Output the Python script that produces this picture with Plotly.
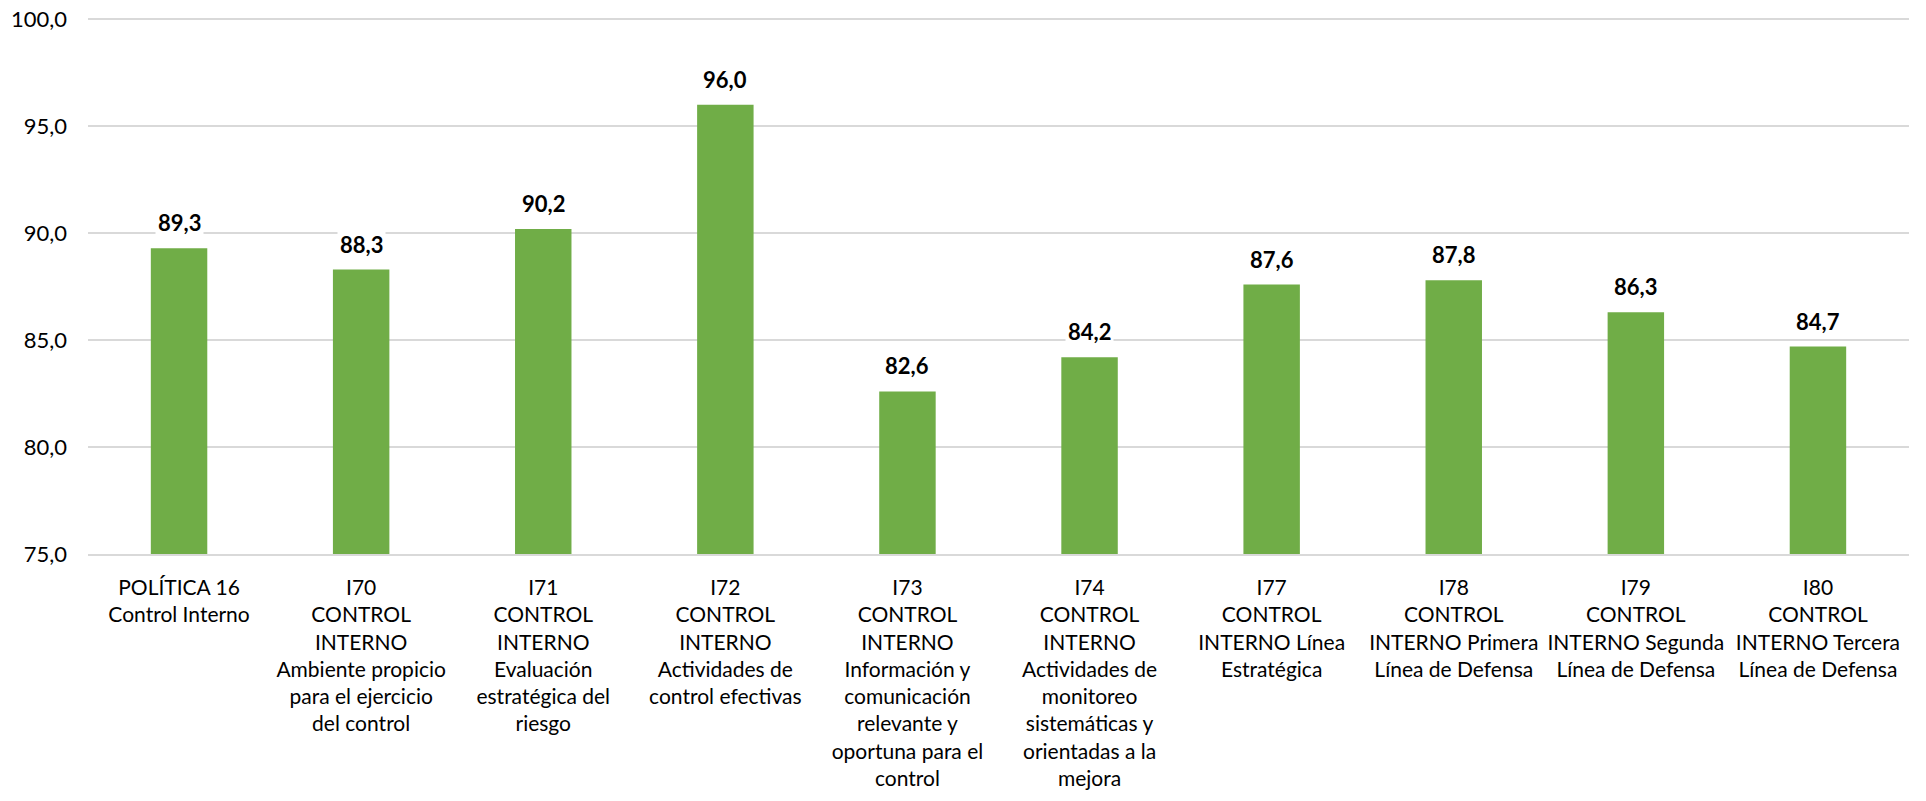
import plotly.graph_objects as go

categories = [
    "POLÍTICA 16<br>Control Interno",
    "I70<br>CONTROL<br>INTERNO<br>Ambiente propicio<br>para el ejercicio<br>del control",
    "I71<br>CONTROL<br>INTERNO<br>Evaluación<br>estratégica del<br>riesgo",
    "I72<br>CONTROL<br>INTERNO<br>Actividades de<br>control efectivas",
    "I73<br>CONTROL<br>INTERNO<br>Información y<br>comunicación<br>relevante y<br>oportuna para el<br>control",
    "I74<br>CONTROL<br>INTERNO<br>Actividades de<br>monitoreo<br>sistemáticas y<br>orientadas a la<br>mejora",
    "I77<br>CONTROL<br>INTERNO Línea<br>Estratégica",
    "I78<br>CONTROL<br>INTERNO Primera<br>Línea de Defensa",
    "I79<br>CONTROL<br>INTERNO Segunda<br>Línea de Defensa",
    "I80<br>CONTROL<br>INTERNO Tercera<br>Línea de Defensa",
]
values = [89.3, 88.3, 90.2, 96.0, 82.6, 84.2, 87.6, 87.8, 86.3, 84.7]

FONT = "Lato, 'Open Sans', sans-serif"

fig = go.Figure(
    go.Bar(
        x=categories,
        y=values,
        marker=dict(color="#70AD47", line=dict(width=0)),
        width=0.31,
        hoverinfo="skip",
    )
)

for c, v in zip(categories, values):
    fig.add_annotation(
        x=c, y=v, xref="x", yref="y",
        text="<b>" + f"{v:.1f}".replace(".", ",") + "</b>",
        showarrow=False, yanchor="bottom", yshift=9,
        bgcolor="white", borderpad=2,
        font=dict(family=FONT, size=22, color="#000000"),
    )

fig.update_layout(
    width=1926, height=801,
    margin=dict(l=88, r=17, t=15, b=247, autoexpand=False),
    paper_bgcolor="white", plot_bgcolor="white",
    separators=",.",
    showlegend=False,
    font=dict(family=FONT, color="#000000"),
)
fig.update_xaxes(
    showgrid=False, showline=True, linecolor="#D9D9D9", linewidth=1.5,
    ticks="", automargin=False,
    tickfont=dict(family=FONT, size=21, color="#000000"),
    ticklabelstandoff=14,
    tickangle=0,
)
fig.update_yaxes(
    range=[75, 100.2], dtick=5, tick0=75, tickformat=".1f",
    showgrid=True, gridcolor="#D9D9D9", gridwidth=1.5,
    zeroline=False, showline=False, ticks="", automargin=False,
    tickfont=dict(family=FONT, size=22, color="#000000"),
    ticklabelstandoff=20,
    ticklabeloverflow="allow",
)

fig.write_html(
    "out.html",
    config={"displayModeBar": False},
    post_script="document.body.style.margin='0';document.body.style.overflow='hidden';",
)
